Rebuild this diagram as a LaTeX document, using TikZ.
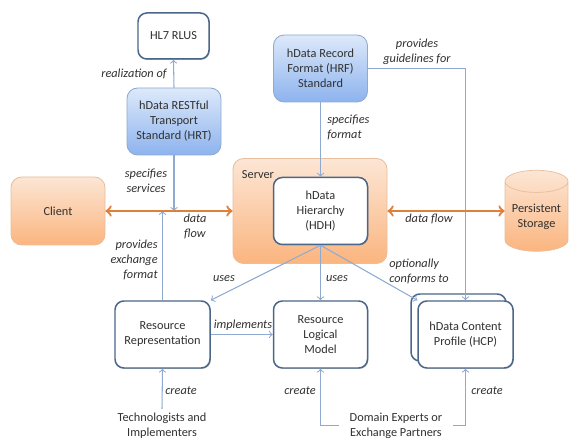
\documentclass[tikz,border=0pt]{standalone}
\usepackage{fontspec}
\setmainfont{Carlito}
\usepackage{xcolor}
\usepackage{tikz}
\usetikzlibrary{shapes,arrows,positioning,calc,shadows,shapes.geometric,arrows.meta}
\definecolor{linkblue}{HTML}{8FAAD0}
\definecolor{edgeblue}{HTML}{4A6688}
\definecolor{flowor}{HTML}{DE7F3C}
\definecolor{txtgray}{HTML}{303030}
\definecolor{bluetop}{HTML}{DDE9FA}
\definecolor{bluebot}{HTML}{8DB3EE}
\definecolor{ortop}{HTML}{FCE6D5}
\definecolor{orbot}{HTML}{FBB57F}
\definecolor{oredge}{HTML}{E8BE9C}

\begin{document}
\begin{tikzpicture}[
    font=\fontsize{7}{8.5}\selectfont, text=txtgray,
    whitebox/.style={draw=edgeblue, line width=0.85pt, fill=white, rounded corners=5pt, align=center, inner sep=0pt,
        drop shadow={shadow xshift=0.5pt, shadow yshift=-0.5pt, fill=black!50}},
    bluebox/.style={draw=linkblue, line width=0.5pt, top color=bluetop, bottom color=bluebot, rounded corners=6pt, align=center, inner sep=0pt,
        minimum width=1.88cm, minimum height=1.34cm},
    orbox/.style={draw=oredge, line width=0.5pt, top color=ortop, bottom color=orbot, rounded corners=6pt, align=center, inner sep=0pt},
    lbl/.style={font=\fontsize{7}{8.5}\selectfont\itshape, align=center, inner sep=0pt},
    link/.style={draw=linkblue, line width=0.6pt, ->, >=to},
    flow/.style={draw=flowor, line width=1.3pt, <->, >=to}
]
    \useasboundingbox (0,0) rectangle (11.38,8.78);

    % Standards
    \node[whitebox, minimum width=1.42cm, minimum height=0.92cm] (rlus) at (3.47,8.06) {HL7 RLUS};
    \node[bluebox] (hrt) at (3.48,6.35) {hData RESTful\\Transport\\Standard (HRT)};
    \node[bluebox] (hrf) at (6.41,7.41) {hData Record\\Format (HRF)\\Standard};

    % Data flow row
    \node[orbox, minimum width=1.88cm, minimum height=1.36cm] (client) at (1.16,4.56) {Client};
    \node[orbox, minimum width=3.08cm, minimum height=2.1cm] (server) at (6.2,4.56) {};
    \node[whitebox, minimum width=1.88cm, minimum height=1.34cm] (hdh) at (6.41,4.56) {hData\\Hierarchy\\(HDH)};
    \node[cylinder, shape border rotate=90, aspect=0.45, draw=oredge, top color=ortop, bottom color=orbot,
        minimum width=1.26cm, minimum height=1.62cm, align=center, inner sep=0pt] (store) at (10.73,4.45) {Persistent\\Storage};
    \node[inner sep=0pt] (srvlbl) at (5.16,5.28) {Server};

    % Models
    \node[whitebox, minimum width=1.9cm, minimum height=1.34cm] (rr) at (3.25,2.09) {Resource\\Representation};
    \node[whitebox, minimum width=1.88cm, minimum height=1.34cm] (rlm) at (6.41,2.09) {Resource\\Logical\\Model};
    \node[whitebox, minimum width=1.9cm, minimum height=1.34cm] (hcpback) at (9.17,2.23) {};
    \node[whitebox, minimum width=1.9cm, minimum height=1.34cm] (hcp) at (9.31,2.09) {hData Content\\Profile (HCP)};

    % Authors
    \node[align=center, inner sep=2pt] (tech) at (3.24,0.27) {Technologists and\\Implementers};
    \node[align=center, inner sep=6pt] (domain) at (7.92,0.27) {Domain Experts or\\Exchange Partners};

    % Links
    \draw[link] (hrt.north) -- (rlus.south);
    \draw[link] (hrt.south) -- (hrt.south |- client.east);
    \draw[link] (hrf.south) -- (hdh.north);
    \draw[link] (hrf.east) -| (hcp.north);
    \draw[link] (rr.north) -- (rr.north |- client.east);
    \draw[link] (hdh.south) -- (rr.north east);
    \draw[link] (hdh.south) -- (rlm.north);
    \draw[link] (hdh.south) -- (hcp.north west);
    \draw[link] (rr.east) -- (rlm.west);
    \draw[link] (tech.north) -- (rr.south);
    \draw[link] (domain.west) -| (rlm.south);
    \draw[link] (domain.east) -| (hcp.south);

    % Orange arrows
    \draw[flow] (client.east) -- (server.west);
    \draw[flow] (server.east) -- (server.east -| store.west);

    % Labels
    \node[lbl] (realof) at (2.68,7.30) {realization of};
    \node[lbl] (specsrv) at (2.92,5.17) {specifies\\services};
    \node[lbl] (flowa) at (3.9,4.26) {data\\flow};
    \node[lbl, align=right, anchor=east] (provex) at (3.16,3.58) {provides\\exchange\\format};
    \node[lbl] (usesa) at (4.48,3.2) {uses};
    \node[lbl] (impl) at (4.86,2.28) {implements};
    \node[lbl] (createa) at (3.62,0.96) {create};
    \node[lbl, align=left, anchor=west] (specfmt) at (6.54,6.23) {specifies\\format};
    \node[lbl] (provgl) at (8.34,7.75) {provides\\guidelines for};
    \node[lbl] (flowb) at (8.58,4.4) {data flow};
    \node[lbl] (usesb) at (6.74,3.2) {uses};
    \node[lbl, align=left, anchor=west] (optconf) at (7.78,3.35) {optionally\\conforms to};
    \node[lbl] (createb) at (6.0,0.96) {create};
    \node[lbl] (createc) at (9.74,0.96) {create};
\end{tikzpicture}
\end{document}
